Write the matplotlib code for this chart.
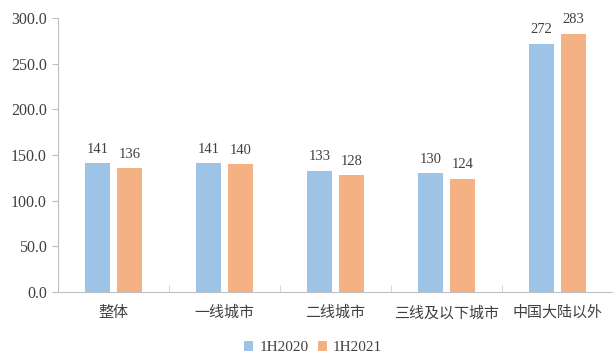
import matplotlib
matplotlib.use("Agg")
import matplotlib.pyplot as plt
import numpy as np

categories = ["整体", "一线城市", "二线城市", "三线及以下城市", "中国大陆以外"]
series_names = ["1H2020", "1H2021"]
values_2020 = [141, 141, 133, 130, 272]
values_2021 = [136, 140, 128, 124, 283]
yticks = [0, 50, 100, 150, 200, 250, 300]

plt.rcParams['font.family'] = ['Liberation Serif', 'Noto Sans CJK SC', 'DejaVu Sans']

fig = plt.figure(figsize=(6.13, 3.56), dpi=100)
ax = fig.add_axes([0.0946, 0.180, 0.905, 0.769])

x = np.arange(len(categories))
w = 0.225
gap = 0.063
c1, c2 = "#9DC3E6", "#F4B183"
b1 = ax.bar(x - w/2 - gap/2, values_2020, w, color=c1, label=series_names[0])
b2 = ax.bar(x + w/2 + gap/2, values_2021, w, color=c2, label=series_names[1])
for bars, vals in ((b1, values_2020), (b2, values_2021)):
    for r, v in zip(bars, vals):
        ax.text(r.get_x() + r.get_width()/2, v + 8, f"{v}", ha="center", va="bottom",
                fontsize=10.5, color="#404040")

ax.set_xlim(-0.5, len(categories) - 0.5)
ax.set_ylim(0, 300)
ax.set_yticks(yticks)
ax.set_yticklabels([f"{t:.1f}" for t in yticks], fontsize=11.5, color="#404040")
ax.set_xticks(x)
ax.set_xticklabels(categories, fontsize=10.8, color="#404040")
ax.tick_params(axis="x", length=0, pad=10)
ax.set_xticks(np.arange(len(categories) + 1) - 0.5, minor=True)
ax.tick_params(axis="x", which="minor", direction="in", length=5, color="#D0D0D0")
ax.tick_params(axis="y", length=4, color="#BFBFBF", pad=4)
for s in ("top", "right"):
    ax.spines[s].set_visible(False)
for s in ("left", "bottom"):
    ax.spines[s].set_color("#BFBFBF")

fig.legend(handles=[b1, b2], loc="center", bbox_to_anchor=(0.511, 0.024), ncol=2,
           frameon=False, fontsize=11, handlelength=0.6, handleheight=0.6,
           handletextpad=0.4, columnspacing=0.6, labelcolor="#404040",
           borderpad=0, borderaxespad=0)

fig.savefig("out.png", dpi=100)
